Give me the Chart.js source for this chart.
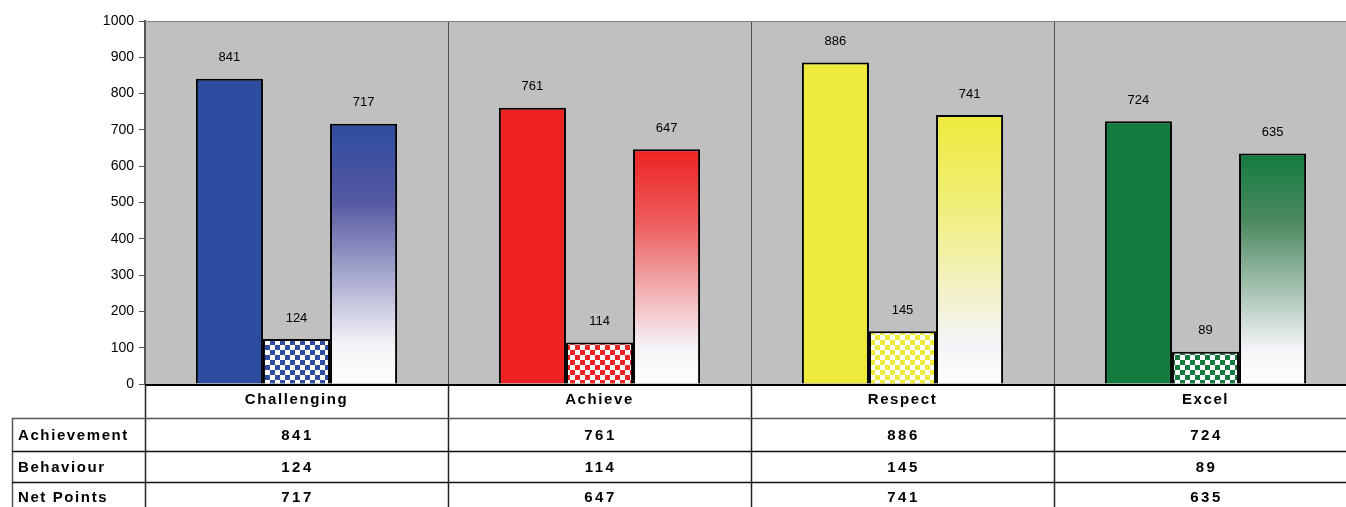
<!DOCTYPE html>
<html>
<head>
<meta charset="utf-8">
<script src="https://cdn.jsdelivr.net/npm/chart.js@4.4.0/dist/chart.umd.min.js"></script>
<style>
  html, body { margin: 0; padding: 0; background: #fff; overflow: hidden; }
  #wrap { width: 1360px; height: 507px; }
</style>
</head>
<body>
<div id="wrap"><canvas id="chart"></canvas></div>
<script>
// data
const categories = ["Challenging", "Achieve", "Respect", "Excel"];
const seriesNames = ["Achievement", "Behaviour", "Net Points"];
const achievement = [841, 761, 886, 724];
const behaviour = [124, 114, 145, 89];
const netPoints = [717, 647, 741, 635];
const yMin = 0, yMax = 1000, yStep = 100;

const barColors = ["#2e4ca0", "#ee2222", "#eeea3c", "#137b3e"];
// colour the gradient passes through about a third of the way down
const fadeMid = ["#5558a2", "#ee5a5a", "#f0ee70", "#4e8a62"];
const FONT = "'Liberation Sans', Arial, sans-serif";

// checkered pattern for behaviour bars
function checker(color) {
  const c = document.createElement("canvas");
  c.width = 10; c.height = 10;
  const g = c.getContext("2d");
  g.fillStyle = "#fff"; g.fillRect(0, 0, 10, 10);
  g.fillStyle = color;
  g.fillRect(0, 0, 5, 5); g.fillRect(5, 5, 5, 5);
  return g.createPattern(c, "repeat");
}

// one colour gradient, fades to white at the bottom
function fade(ctx) {
  const chart = ctx.chart;
  const i = ctx.dataIndex;
  if (!chart.chartArea) return barColors[i];
  const y = chart.scales.y;
  const top = y.getPixelForValue(ctx.raw);
  const bottom = y.getPixelForValue(0);
  const g = chart.ctx.createLinearGradient(0, top, 0, bottom);
  g.addColorStop(0, barColors[i]);
  g.addColorStop(0.3, fadeMid[i]);
  g.addColorStop(0.85, "#f4f4f8");
  g.addColorStop(1, "#ffffff");
  return g;
}

// grey plot background
const plotBg = {
  id: "plotBg",
  beforeDraw(chart) {
    const { ctx, chartArea: a } = chart;
    ctx.save();
    ctx.fillStyle = "#c0c0c0";
    ctx.fillRect(a.left, a.top, a.right - a.left, a.bottom - a.top);
    ctx.restore();
  }
};

// value labels above bars
const barLabels = {
  id: "barLabels",
  afterDatasetsDraw(chart) {
    const ctx = chart.ctx;
    ctx.save();
    ctx.font = "13px " + FONT;
    ctx.fillStyle = "#000";
    ctx.textAlign = "center";
    ctx.textBaseline = "middle";
    chart.data.datasets.forEach((ds, i) => {
      chart.getDatasetMeta(i).data.forEach((bar, j) => {
        ctx.fillText(String(ds.data[j]), bar.x, bar.y - 21);
      });
    });
    ctx.restore();
  }
};

// separators, category labels and data table under the plot
const dataTable = {
  id: "dataTable",
  afterDraw(chart) {
    const { ctx, chartArea: a } = chart;
    const x = chart.scales.x;
    const H = chart.height;
    const catW = (a.right - a.left) / categories.length;
    const rowTops = [418, 451, 482];
    const rows = [achievement, behaviour, netPoints];
    ctx.save();

    // vertical separators in plot
    ctx.strokeStyle = "#505050";
    ctx.lineWidth = 1;
    for (let i = 1; i < categories.length; i++) {
      const px = Math.round(x.getPixelForValue(i) - catW / 2) + 0.5;
      ctx.beginPath(); ctx.moveTo(px, a.top); ctx.lineTo(px, a.bottom); ctx.stroke();
    }
    // top edge of plot
    ctx.strokeStyle = "#808080";
    ctx.beginPath(); ctx.moveTo(a.left, a.top + 0.5); ctx.lineTo(a.right, a.top + 0.5); ctx.stroke();

    // separators in table
    ctx.strokeStyle = "#222";
    ctx.lineWidth = 1.5;
    for (let i = 0; i < categories.length; i++) {
      const px = Math.round(x.getPixelForValue(i) - catW / 2) + 0.5;
      ctx.beginPath(); ctx.moveTo(px, a.bottom); ctx.lineTo(px, H); ctx.stroke();
    }
    ctx.strokeStyle = "#555";
    ctx.beginPath(); ctx.moveTo(12.5, rowTops[0]); ctx.lineTo(12.5, H); ctx.stroke();
    rowTops.forEach((t, r) => {
      ctx.strokeStyle = r === 0 ? "#555" : "#111";
      ctx.beginPath(); ctx.moveTo(12, t + 0.5); ctx.lineTo(chart.width, t + 0.5); ctx.stroke();
    });

    // x axis line
    ctx.strokeStyle = "#000";
    ctx.lineWidth = 2;
    ctx.beginPath(); ctx.moveTo(a.left, a.bottom + 1); ctx.lineTo(a.right, a.bottom + 1); ctx.stroke();

    // category labels
    ctx.fillStyle = "#000";
    ctx.font = "bold 15px " + FONT;
    ctx.letterSpacing = "1.6px";
    ctx.textAlign = "center";
    ctx.textBaseline = "middle";
    categories.forEach((c, i) => ctx.fillText(c, x.getPixelForValue(i), 400));

    // table rows
    rows.forEach((vals, r) => {
      const cy = rowTops[r] + 18 - r;
      ctx.textAlign = "left";
      ctx.fillText(seriesNames[r], 18, cy);
      ctx.textAlign = "center";
      ctx.letterSpacing = "2.5px";
      vals.forEach((v, i) => ctx.fillText(String(v), x.getPixelForValue(i) + 1, cy));
      ctx.letterSpacing = "1.6px";
    });
    ctx.restore();
  }
};

new Chart(document.getElementById("chart"), {
  type: "bar",
  data: {
    labels: categories,
    datasets: [
      {
        label: seriesNames[0],
        data: achievement,
        backgroundColor: barColors,
        borderColor: "#000",
        borderWidth: 2
      },
      {
        label: seriesNames[1],
        data: behaviour,
        backgroundColor: barColors.map(checker),
        borderColor: "#000",
        borderWidth: 2
      },
      {
        label: seriesNames[2],
        data: netPoints,
        backgroundColor: fade,
        borderColor: "#000",
        borderWidth: 2
      }
    ]
  },
  options: {
    responsive: true,
    maintainAspectRatio: false,
    animation: false,
    layout: { padding: { top: 21, right: 3, bottom: 123, left: 0 } },
    datasets: { bar: { categoryPercentage: 0.664, barPercentage: 1 } },
    plugins: {
      legend: { display: false },
      tooltip: { enabled: false }
    },
    scales: {
      x: { display: false },
      y: {
        min: yMin,
        max: yMax,
        afterFit(scale) { scale.width = 145; },
        ticks: {
          stepSize: yStep,
          color: "#000",
          font: { family: FONT, size: 14 },
          padding: 5,
          callback: v => String(v)
        },
        grid: { drawOnChartArea: false, drawTicks: true, tickLength: 6, color: "#555" },
        border: { color: "#555", width: 2 }
      }
    }
  },
  plugins: [plotBg, barLabels, dataTable]
});
</script>
</body>
</html>
